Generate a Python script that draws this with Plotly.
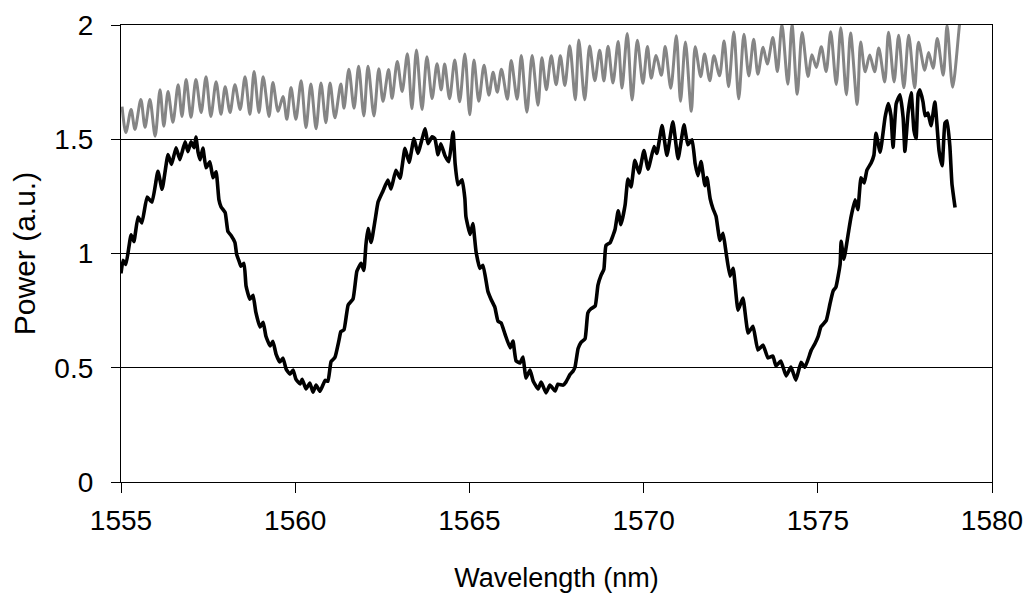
import plotly.graph_objects as go

# ---- Upper (gray) trace: wavelength (nm) and power (a.u.) ----
gray_wl = [
    1555.03, 1555.14, 1555.29, 1555.40, 1555.57, 1555.69, 1555.83, 1555.98, 1556.12, 1556.23,
    1556.35, 1556.49, 1556.64, 1556.75, 1556.87, 1557.01, 1557.15, 1557.30, 1557.44, 1557.58,
    1557.73, 1557.87, 1557.99, 1558.13, 1558.27, 1558.42, 1558.56, 1558.70, 1558.82, 1558.96,
    1559.08, 1559.25, 1559.36, 1559.51, 1559.65, 1559.76, 1559.88, 1560.02, 1560.17, 1560.31,
    1560.45, 1560.60, 1560.74, 1560.88, 1561.00, 1561.14, 1561.31,
    1561.40, 1561.54, 1561.69, 1561.82, 1561.97, 1562.09, 1562.26, 1562.40, 1562.52, 1562.68,
    1562.78, 1562.93, 1563.07, 1563.22, 1563.35, 1563.48, 1563.64, 1563.78, 1563.93, 1564.07,
    1564.19, 1564.29, 1564.43, 1564.58, 1564.72, 1564.87, 1565.01, 1565.13, 1565.27, 1565.42,
    1565.56, 1565.68, 1565.80, 1565.92, 1566.09, 1566.20, 1566.37, 1566.49, 1566.65, 1566.80,
    1566.97, 1567.08, 1567.21, 1567.35, 1567.49, 1567.61, 1567.74, 1567.88, 1568.04, 1568.14,
    1568.31, 1568.45, 1568.60, 1568.74, 1568.86, 1568.98, 1569.12, 1569.27, 1569.38, 1569.53,
    1569.67, 1569.82, 1569.98, 1570.11, 1570.22, 1570.36, 1570.51, 1570.62, 1570.78, 1570.94,
    1571.06, 1571.20, 1571.37, 1571.48, 1571.64, 1571.75, 1571.90, 1572.02, 1572.18, 1572.31,
    1572.44, 1572.59, 1572.73, 1572.88, 1573.02, 1573.16, 1573.28, 1573.43, 1573.55, 1573.71,
    1573.84, 1573.97, 1574.14, 1574.26, 1574.41, 1574.55, 1574.72, 1574.83, 1574.96, 1575.10,
    1575.24, 1575.37, 1575.53, 1575.66, 1575.82, 1575.94, 1576.13, 1576.23, 1576.36, 1576.49,
    1576.63, 1576.75, 1576.92, 1577.03, 1577.19, 1577.32, 1577.47, 1577.61, 1577.78, 1577.89,
    1578.07, 1578.18, 1578.31, 1578.43, 1578.60, 1578.71, 1578.87, 1579.07, 1579.15,
]
gray_pw = [
    1.643, 1.530, 1.630, 1.543, 1.674, 1.552, 1.674, 1.513, 1.717, 1.557,
    1.709, 1.574, 1.739, 1.600, 1.761, 1.596, 1.761, 1.617, 1.774, 1.600,
    1.752, 1.609, 1.730, 1.617, 1.739, 1.630, 1.774, 1.609, 1.796, 1.617,
    1.774, 1.600, 1.748, 1.622, 1.687, 1.587, 1.726, 1.587, 1.756, 1.551,
    1.742, 1.546, 1.746, 1.572, 1.746, 1.594, 1.742,
    1.636, 1.806, 1.636, 1.819, 1.602, 1.819, 1.602, 1.809, 1.666, 1.805,
    1.679, 1.840, 1.709, 1.874, 1.634, 1.891, 1.630, 1.861, 1.678, 1.830,
    1.716, 1.829, 1.677, 1.847, 1.664, 1.873, 1.607, 1.847, 1.666, 1.824,
    1.693, 1.793, 1.706, 1.806, 1.675, 1.845, 1.675, 1.866, 1.618, 1.866,
    1.649, 1.857, 1.717, 1.865, 1.739, 1.865, 1.735, 1.909, 1.673, 1.934,
    1.673, 1.908, 1.756, 1.890, 1.755, 1.907, 1.746, 1.928, 1.724, 1.963,
    1.672, 1.933, 1.745, 1.906, 1.767, 1.867, 1.780, 1.906, 1.723, 1.953,
    1.666, 1.926, 1.622, 1.905, 1.774, 1.873, 1.756, 1.865, 1.778, 1.930,
    1.730, 1.969, 1.677, 1.959, 1.777, 1.938, 1.785, 1.903, 1.829, 1.945,
    1.797, 2.002, 1.741, 2.002, 1.697, 1.967, 1.775, 1.870, 1.814, 1.905,
    1.796, 1.970, 1.740, 1.988, 1.695, 1.965, 1.652, 1.926, 1.795, 1.869,
    1.795, 1.899, 1.751, 1.968, 1.751, 1.955, 1.725, 1.955, 1.725, 1.924,
    1.802, 1.880, 1.811, 1.941, 1.780, 1.998, 1.728, 2.005, 2.10,
]

# ---- Lower (black) trace ----
black_wl = [
    1555.00, 1555.06, 1555.14, 1555.29, 1555.37, 1555.49, 1555.60, 1555.75, 1555.89, 1556.06,
    1556.18, 1556.35, 1556.45, 1556.58, 1556.69, 1556.84, 1556.92, 1557.01, 1557.10, 1557.15,
    1557.21, 1557.27, 1557.35, 1557.44, 1557.55, 1557.64, 1557.73, 1557.81,
    1557.87, 1557.99, 1558.07, 1558.16, 1558.27, 1558.32, 1558.39, 1558.44, 1558.53, 1558.59,
    1558.70, 1558.79, 1558.87, 1558.99, 1559.08, 1559.16, 1559.28, 1559.36, 1559.45, 1559.56,
    1559.65, 1559.74, 1559.85, 1559.94, 1560.02, 1560.14, 1560.20, 1560.31, 1560.42, 1560.51,
    1560.60, 1560.71,
    1560.86, 1560.94, 1561.03, 1561.14, 1561.26, 1561.31, 1561.40, 1561.52, 1561.66, 1561.77,
    1561.89, 1561.97, 1562.03, 1562.09, 1562.18, 1562.29, 1562.38,
    1562.52, 1562.66, 1562.75, 1562.89, 1563.01, 1563.15, 1563.27, 1563.41, 1563.52, 1563.73,
    1563.81, 1563.93, 1564.01, 1564.10, 1564.18, 1564.30, 1564.41, 1564.53, 1564.59, 1564.67,
    1564.79, 1564.87,
    1564.90, 1565.02, 1565.10, 1565.19, 1565.30, 1565.39, 1565.53, 1565.62, 1565.73, 1565.82,
    1565.91, 1566.02, 1566.17, 1566.25, 1566.34, 1566.45, 1566.54, 1566.62, 1566.74, 1566.83,
    1566.97, 1567.06, 1567.20, 1567.31, 1567.46, 1567.54, 1567.69,
    1567.77, 1567.89, 1567.97, 1568.03, 1568.12, 1568.20, 1568.32, 1568.40, 1568.49, 1568.61,
    1568.69, 1568.78, 1568.86, 1568.92, 1569.04, 1569.18, 1569.27, 1569.35,
    1569.47, 1569.55, 1569.64, 1569.75, 1569.87, 1570.01, 1570.13, 1570.30, 1570.38, 1570.53,
    1570.67, 1570.84, 1570.99, 1571.16, 1571.27, 1571.39, 1571.48, 1571.56, 1571.65, 1571.76,
    1571.82, 1571.91, 1571.99,
    1572.08, 1572.19, 1572.28, 1572.37, 1572.48, 1572.57, 1572.71, 1572.85, 1573.00, 1573.14,
    1573.28, 1573.43, 1573.57, 1573.71, 1573.80, 1573.94, 1574.09, 1574.23, 1574.37, 1574.52,
    1574.63, 1574.81, 1574.92, 1575.01, 1575.09, 1575.24, 1575.35, 1575.44, 1575.52, 1575.64,
    1575.67, 1575.75, 1575.87, 1575.95, 1576.07, 1576.15,
    1576.24, 1576.33, 1576.41, 1576.53, 1576.61, 1576.67, 1576.79, 1576.93, 1577.02, 1577.10,
    1577.16, 1577.25, 1577.36, 1577.45, 1577.50, 1577.59, 1577.68, 1577.76, 1577.82, 1577.88,
    1577.93, 1578.02, 1578.08, 1578.16, 1578.25, 1578.36, 1578.48, 1578.57, 1578.65, 1578.71,
    1578.79, 1578.85, 1578.94,
]
black_pw = [
    0.913, 0.970, 0.952, 1.082, 1.052, 1.160, 1.134, 1.247, 1.225, 1.360,
    1.281, 1.433, 1.390, 1.463, 1.411, 1.489, 1.446, 1.489, 1.463, 1.510,
    1.445, 1.410, 1.462, 1.375, 1.401, 1.332, 1.358, 1.236,
    1.205, 1.179, 1.096, 1.079, 1.048, 0.996, 0.966, 0.944, 0.957, 0.857,
    0.800, 0.817, 0.743, 0.678, 0.699, 0.638, 0.595, 0.616, 0.560, 0.525,
    0.542, 0.494, 0.472, 0.490, 0.450, 0.429, 0.450, 0.407, 0.433, 0.393,
    0.424, 0.397,
    0.445, 0.441, 0.527, 0.545, 0.623, 0.658, 0.666, 0.775, 0.801, 0.922,
    0.957, 0.926, 1.039, 1.109, 1.048, 1.143, 1.226,
    1.274, 1.321, 1.282, 1.364, 1.329, 1.460, 1.399, 1.503, 1.438, 1.546,
    1.481, 1.511, 1.502, 1.432, 1.480, 1.428, 1.402, 1.532, 1.393, 1.301,
    1.323, 1.240,
    1.162, 1.083, 1.131, 1.009, 0.935, 0.948, 0.835, 0.800, 0.765, 0.704,
    0.696, 0.648, 0.587, 0.617, 0.530, 0.521, 0.547, 0.455, 0.490, 0.442,
    0.407, 0.437, 0.390, 0.424, 0.398, 0.428, 0.424,
    0.437, 0.471, 0.484, 0.502, 0.584, 0.610, 0.627, 0.740, 0.758, 0.770,
    0.862, 0.905, 0.931, 1.035, 1.048, 1.105, 1.187, 1.126,
    1.213, 1.326, 1.291, 1.408, 1.352, 1.451, 1.369, 1.468, 1.438, 1.560,
    1.429, 1.576, 1.415, 1.563, 1.476, 1.498, 1.393, 1.341, 1.402, 1.297,
    1.332, 1.240, 1.197,
    1.162, 1.057, 1.088, 1.001, 0.901, 0.935, 0.752, 0.805, 0.652, 0.682,
    0.578, 0.599, 0.543, 0.551, 0.508, 0.529, 0.464, 0.503, 0.446, 0.524,
    0.502, 0.576, 0.606, 0.637, 0.680, 0.706, 0.780, 0.836, 0.853, 0.953,
    1.053, 0.975, 1.083, 1.157, 1.235, 1.192,
    1.331, 1.309, 1.365, 1.396, 1.430, 1.526, 1.443, 1.595, 1.656, 1.604,
    1.464, 1.656, 1.695, 1.594, 1.447, 1.612, 1.703, 1.538, 1.503, 1.698,
    1.716, 1.663, 1.603, 1.615, 1.559, 1.663, 1.450, 1.384, 1.571, 1.580,
    1.471, 1.306, 1.201,
]

x_ticks = [1555, 1560, 1565, 1570, 1575, 1580]
y_ticks = [0, 0.5, 1, 1.5, 2]
y_tick_text = ["0", "0.5", "1", "1.5", "2"]

FONT = "Liberation Sans, Arial, sans-serif"

fig = go.Figure()
fig.add_trace(go.Scatter(
    x=gray_wl, y=gray_pw, mode="lines",
    line=dict(color="#858585", width=3, shape="spline", smoothing=0.8),
    showlegend=False, hoverinfo="skip",
))
fig.add_trace(go.Scatter(
    x=black_wl, y=black_pw, mode="lines",
    line=dict(color="#000000", width=3.6, shape="spline", smoothing=0.4),
    showlegend=False, hoverinfo="skip",
))

# the page body adds an 8 px offset, margins compensate for it
fig.update_layout(
    width=1031, height=600,
    margin=dict(l=113, r=47, t=17, b=126),
    paper_bgcolor="white", plot_bgcolor="white",
    font=dict(family=FONT, size=28, color="black"),
    xaxis=dict(
        range=[1555, 1580], tickvals=x_ticks, ticktext=[str(v) for v in x_ticks],
        showgrid=False, zeroline=False, automargin=False,
        showline=True, linecolor="black", linewidth=1.2, mirror=True,
        ticks="outside", ticklen=10, tickcolor="black", tickwidth=1,
        ticklabelstandoff=3, ticklabeloverflow="allow",
        title=dict(text="Wavelength (nm)", font=dict(size=27), standoff=33),
    ),
    yaxis=dict(
        range=[0, 2], tickvals=y_ticks, ticktext=y_tick_text,
        showgrid=True, gridcolor="black", gridwidth=1, zeroline=False, automargin=False,
        showline=True, linecolor="black", linewidth=1.2, mirror=True,
        ticks="outside", ticklen=9, tickcolor="black", tickwidth=1,
        ticklabelstandoff=12, ticklabeloverflow="allow",
        title=dict(text="Power (a.u.)", font=dict(size=30), standoff=12),
    ),
)

fig.write_html("out.html")
